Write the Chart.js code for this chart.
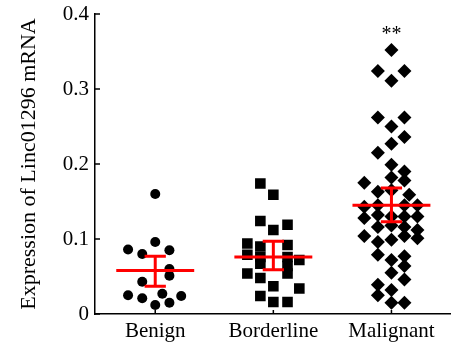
<!DOCTYPE html>
<html>
<head>
<meta charset="utf-8">
<script src="https://cdn.jsdelivr.net/npm/chart.js@4.4.1/dist/chart.umd.min.js"></script>
<style>
  html, body { margin: 0; padding: 0; background: #fff; }
  #wrap { width: 458px; height: 346px; position: relative; }
</style>
</head>
<body>
<div id="wrap"><canvas id="myChart"></canvas></div>
<script>
const categories = ['Benign', 'Borderline', 'Malignant'];
const yTicks = [0, 0.1, 0.2, 0.3, 0.4];

// y values and horizontal jitter (in category units)
const benignY = [0.160, 0.096, 0.086, 0.085, 0.080, 0.060, 0.051, 0.043, 0.025, 0.021, 0.027, 0.015, 0.024, 0.012];
const benignX = [0, 0, -0.23, 0.12, -0.11, 0.12, 0.12, -0.11, -0.23, -0.11, 0.06, 0.12, 0.22, 0];

const borderlineY = [0.174, 0.159, 0.124, 0.119, 0.112, 0.094, 0.079, 0.090, 0.092, 0.076, 0.076, 0.072, 0.067, 0.064, 0.054, 0.054, 0.048, 0.037, 0.034, 0.024, 0.016, 0.016];
const borderlineX = [-0.11, 0, -0.11, 0.12, 0, -0.22, -0.22, -0.11, 0.12, -0.11, 0.12, 0.22, -0.11, 0.12, 0.12, -0.22, -0.11, 0, 0.22, -0.11, 0, 0.12];

const malignantY = [0.352, 0.324, 0.324, 0.311, 0.262, 0.262, 0.250, 0.236, 0.227, 0.215, 0.199, 0.190, 0.182, 0.175, 0.178, 0.163, 0.165, 0.159,
  0.143, 0.145, 0.145, 0.145, 0.128, 0.132, 0.130, 0.130, 0.130, 0.116, 0.116, 0.112, 0.118, 0.104, 0.096, 0.099, 0.104, 0.101,
  0.079, 0.072, 0.077, 0.064, 0.055, 0.046, 0.039, 0.032, 0.025, 0.015, 0.015];
const malignantX = [0, -0.115, 0.11, 0, -0.115, 0.11, 0, 0.11, 0, -0.115, 0, 0.11, 0, -0.23, 0.11, -0.115, 0, 0.15,
  -0.23, -0.115, 0.11, 0.22, -0.23, -0.115, 0, 0.11, 0.22, -0.115, 0.11, 0.22, 0, -0.23, -0.115, 0, 0.11, 0.22,
  -0.115, 0, 0.11, 0.11, 0, 0.11, -0.115, 0, -0.115, 0, 0.11];

const means = [0.058, 0.076, 0.145];
const errLow = [0.037, 0.059, 0.123];
const errHigh = [0.077, 0.097, 0.168];
const significance = ['', '', '**'];

const pts = (ys, xs, i) => ys.map((y, k) => ({ x: i + 1 + xs[k], y: y }));

// mean line + SEM whiskers as one broken line
const meanSegs = [];
means.forEach((m, i) => {
  const c = i + 1, gap = { x: c, y: null };
  meanSegs.push({ x: c - 0.33, y: m }, { x: c + 0.33, y: m }, gap);
  meanSegs.push({ x: c, y: errLow[i] }, { x: c, y: errHigh[i] }, gap);
  meanSegs.push({ x: c - 0.09, y: errLow[i] }, { x: c + 0.09, y: errLow[i] }, gap);
  meanSegs.push({ x: c - 0.09, y: errHigh[i] }, { x: c + 0.09, y: errHigh[i] }, gap);
});

const serif = '"Liberation Serif", "Times New Roman", serif';
const font = { family: serif, size: 21 };

const extras = {
  id: 'extras',
  afterDraw(chart) {
    const ctx = chart.ctx, xs = chart.scales.x, ys = chart.scales.y;
    const area = chart.chartArea;
    ctx.save();
    ctx.strokeStyle = '#000';
    ctx.lineWidth = 1.5;
    ctx.beginPath();
    yTicks.forEach(v => {
      const py = ys.getPixelForValue(v);
      ctx.moveTo(area.left, py); ctx.lineTo(area.left + 5, py);
    });
    categories.forEach((c, i) => {
      const px = xs.getPixelForValue(i + 1);
      ctx.moveTo(px, area.bottom); ctx.lineTo(px, area.bottom - 4);
    });
    ctx.stroke();
    ctx.fillStyle = '#000';
    ctx.font = '20px ' + serif;
    ctx.textAlign = 'center';
    ctx.textBaseline = 'middle';
    significance.forEach((s, i) => {
      if (s) ctx.fillText(s, xs.getPixelForValue(i + 1), ys.getPixelForValue(0.372));
    });
    ctx.restore();
  }
};

new Chart(document.getElementById('myChart'), {
  type: 'scatter',
  data: {
    datasets: [
      { data: meanSegs, showLine: true, spanGaps: false, borderColor: '#ff0000', borderWidth: 3, pointRadius: 0, order: 0 },
      { data: pts(benignY, benignX, 0), pointStyle: 'circle', pointRadius: 5, backgroundColor: '#000', borderColor: '#000', borderWidth: 0, order: 1 },
      { data: pts(borderlineY, borderlineX, 1), pointStyle: 'rect', pointRadius: 7.5, backgroundColor: '#000', borderColor: '#000', borderWidth: 0, order: 1 },
      { data: pts(malignantY, malignantX, 2), pointStyle: 'rectRot', pointRadius: 7, backgroundColor: '#000', borderColor: '#000', borderWidth: 0, order: 1 }
    ]
  },
  options: {
    responsive: true,
    maintainAspectRatio: false,
    devicePixelRatio: 1,
    animation: false,
    events: [],
    layout: { padding: { left: 0, top: 14, right: 2, bottom: 0 } },
    plugins: { legend: { display: false }, tooltip: { enabled: false } },
    scales: {
      x: {
        type: 'linear',
        min: 0.49,
        max: 3.5,
        afterBuildTicks: s => { s.ticks = categories.map((c, i) => ({ value: i + 1 })); },
        afterFit: s => { s.height = 32; s.paddingLeft = 0; s.paddingRight = 0; },
        grid: { display: false, drawTicks: false },
        border: { display: true, color: '#000', width: 1.5 },
        ticks: { color: '#000', font: font, padding: 5, maxRotation: 0, callback: v => categories[v - 1] }
      },
      y: {
        min: 0,
        max: 0.4,
        afterBuildTicks: s => { s.ticks = yTicks.map(v => ({ value: v })); },
        afterFit: s => { s.width = 95; s.paddingTop = 0; s.paddingBottom = 0; },
        grid: { display: false, drawTicks: false },
        border: { display: true, color: '#000', width: 1.5 },
        ticks: { color: '#000', font: font, padding: 6, callback: v => v === 0 ? '0' : v.toFixed(1) },
        title: { display: true, text: 'Expression of Linc01296 mRNA', color: '#000', font: { family: serif, size: 22 }, padding: { top: 16, bottom: 0 } }
      }
    }
  },
  plugins: [extras]
});
</script>
</body>
</html>
